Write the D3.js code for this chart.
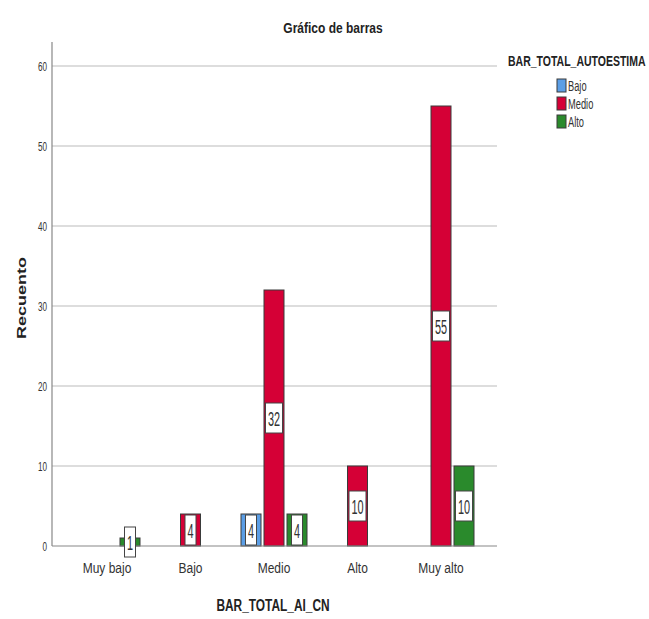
<!DOCTYPE html>
<html>
<head>
<meta charset="utf-8">
<script src="https://cdn.jsdelivr.net/npm/d3@7"></script>
<style>
  html, body { margin: 0; padding: 0; background: #fff; }
  svg { display: block; font-family: "Liberation Sans", Arial, sans-serif; }
</style>
</head>
<body>
<svg id="chart" width="649" height="619"></svg>
<script>
const categories = ["Muy bajo", "Bajo", "Medio", "Alto", "Muy alto"];
const seriesNames = ["Bajo", "Medio", "Alto"];
const bajoValues  = [0, 0, 4, 0, 0];
const medioValues = [0, 4, 32, 10, 55];
const altoValues  = [1, 0, 4, 0, 10];
const yTicks = [0, 10, 20, 30, 40, 50, 60];
const seriesColors = ["#5b9ee6", "#d50036", "#2a8a2c"];

const titleText = "Gráfico de barras";
const xTitle = "BAR_TOTAL_AI_CN";
const yTitle = "Recuento";
const legendTitle = "BAR_TOTAL_AUTOESTIMA";

const seriesValues = [bajoValues, medioValues, altoValues];

const svg = d3.select("#chart");

const plot = { left: 52, right: 497, top: 42, bottom: 546 };

const y = d3.scaleLinear().domain([0, 60]).range([546, 66]);
const x0 = d3.scaleBand().domain(categories).range([65.25, 482.75]).padding(0);
const bw = x0.bandwidth();
const x1 = d3.scaleBand().domain(seriesNames)
  .range([bw / 2 - 34.5, bw / 2 + 34.5])
  .paddingInner(3 / 23).paddingOuter(3 / 46);
const color = d3.scaleOrdinal().domain(seriesNames).range(seriesColors);

function sText(g, str, x, yy, opts) {
  const t = g.append("text")
    .attr("transform", `translate(${x},${yy}) ${opts.rotate ? "scale(" + opts.sx + ",1) rotate(-90)" : "scale(" + opts.sx + ",1)"}`)
    .attr("text-anchor", opts.anchor || "start")
    .attr("font-size", opts.size)
    .attr("font-weight", opts.weight || "normal")
    .attr("fill", opts.fill || "#222")
    .text(str);
  if (opts.baseline) t.attr("dominant-baseline", opts.baseline);
  return t;
}

// gridlines
svg.append("g").selectAll("line").data(yTicks.filter(d => d > 0)).join("line")
  .attr("x1", plot.left).attr("x2", plot.right)
  .attr("y1", d => y(d)).attr("y2", d => y(d))
  .attr("stroke", "#d2d2d2").attr("stroke-width", 1.6);

// y tick labels
const yAxisG = svg.append("g");
yTicks.forEach(t => {
  sText(yAxisG, String(t), plot.left - 5, y(t) + 4.8, { sx: 0.6, size: 13.5, anchor: "end", fill: "#333" });
});

// axis lines
svg.append("line").attr("x1", plot.left).attr("x2", plot.left)
  .attr("y1", plot.top).attr("y2", plot.bottom)
  .attr("stroke", "#888").attr("stroke-width", 1.2);

// bars
const barData = [];
categories.forEach((c, i) => {
  seriesNames.forEach((s, j) => {
    barData.push({ cat: c, ser: s, val: seriesValues[j][i] });
  });
});
const nonzero = barData.filter(d => d.val > 0);

svg.append("g").selectAll("rect").data(nonzero).join("rect")
  .attr("x", d => x0(d.cat) + x1(d.ser))
  .attr("y", d => y(d.val))
  .attr("width", x1.bandwidth())
  .attr("height", d => y(0) - y(d.val))
  .attr("fill", d => color(d.ser))
  .attr("stroke", "#3a3a3a").attr("stroke-width", 1);

// x baseline
svg.append("line").attr("x1", plot.left).attr("x2", plot.right)
  .attr("y1", y(0)).attr("y2", y(0))
  .attr("stroke", "#888").attr("stroke-width", 1.2);

// value labels
const lblG = svg.append("g");
nonzero.forEach(d => {
  const cx = x0(d.cat) + x1(d.ser) + x1.bandwidth() / 2;
  const cy = (y(d.val) + y(0)) / 2;
  const txt = String(d.val);
  const w = txt.length === 1 ? 11 : 17;
  lblG.append("rect")
    .attr("x", cx - w / 2).attr("y", cy - 15)
    .attr("width", w).attr("height", 30)
    .attr("fill", "#fff").attr("stroke", "#444").attr("stroke-width", 1);
  sText(lblG, txt, cx, cy + 7.5, { sx: 0.52, size: 21, anchor: "middle", fill: "#333" });
});

// x tick labels
const xAxisG = svg.append("g");
categories.forEach(c => {
  sText(xAxisG, c, x0(c) + bw / 2, 573, { sx: 0.8, size: 15, anchor: "middle", fill: "#333" });
});

// titles
sText(svg, titleText, 333, 33, { sx: 0.8, size: 15, weight: "bold", anchor: "middle" });
sText(svg, xTitle, 273, 611, { sx: 0.7, size: 17, weight: "bold", anchor: "middle" });
sText(svg, yTitle, 26, 298, { sx: 0.7, size: 18, weight: "bold", anchor: "middle", rotate: true });

// legend
const lg = svg.append("g");
sText(lg, legendTitle, 508, 66, { sx: 0.7, size: 15, weight: "bold", anchor: "start" });
seriesNames.forEach((s, i) => {
  const yy = 79 + i * 18;
  lg.append("rect").attr("x", 557).attr("y", yy).attr("width", 9).attr("height", 13)
    .attr("fill", color(s)).attr("stroke", "#3a3a3a").attr("stroke-width", 1);
  sText(lg, s, 568, yy + 11.5, { sx: 0.62, size: 15, anchor: "start", fill: "#333" });
});
</script>
</body>
</html>
